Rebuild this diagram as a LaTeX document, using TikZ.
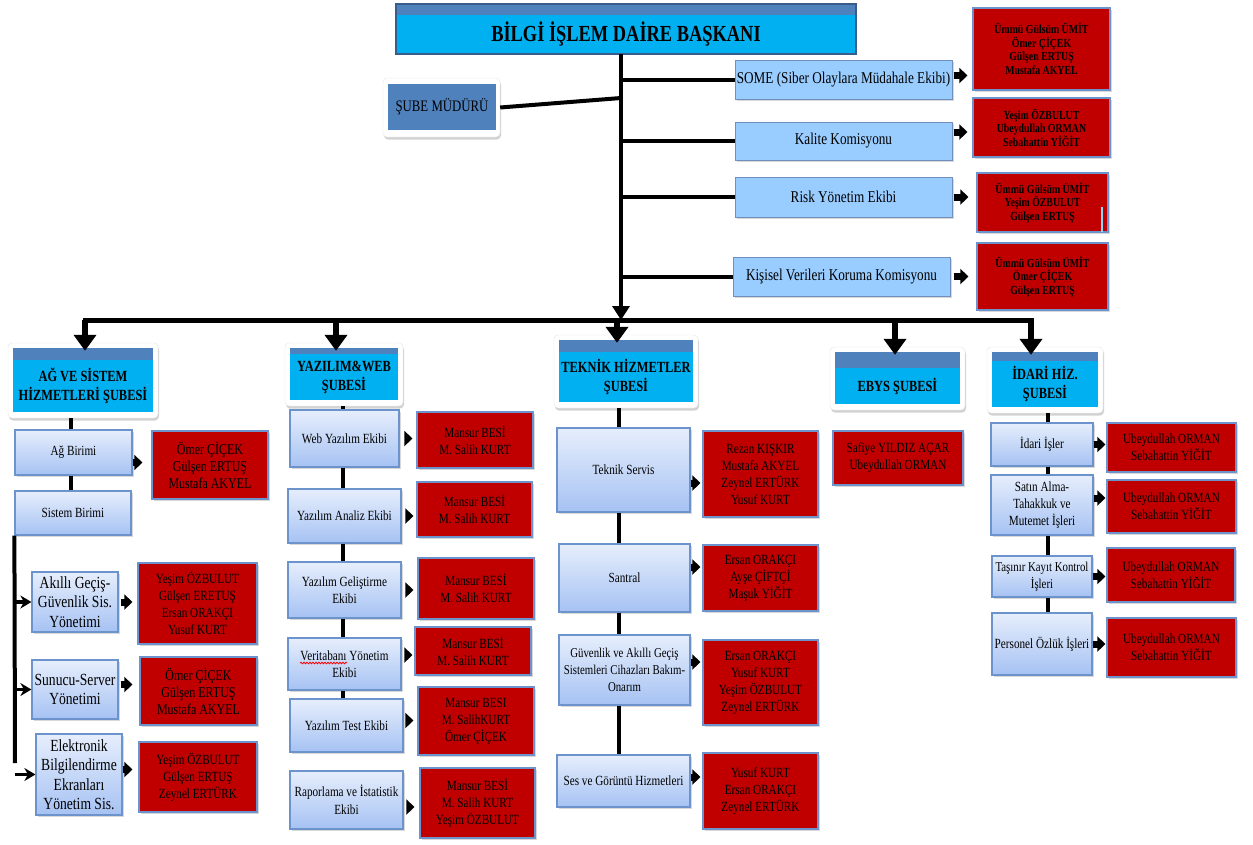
\documentclass[tikz,border=0pt]{standalone}
\usepackage{fontspec}
\setmainfont{Liberation Serif}[FakeStretch=0.8]
\usetikzlibrary{arrows.meta,shadows,decorations.pathmorphing}
\definecolor{cyanb}{HTML}{00B0F0}
\definecolor{steel}{HTML}{4F81BD}
\definecolor{redb}{HTML}{C00000}
\definecolor{ltb}{HTML}{99CCFF}
\definecolor{gtop}{HTML}{E6EEFC}
\definecolor{gbot}{HTML}{A6C2F3}
\definecolor{bord}{HTML}{6D93CC}
\definecolor{navyb}{HTML}{385D8A}
\newcommand\bx[7]{%
 \pgfmathsetmacro\mybw{#5-#3}\pgfmathsetmacro\mybh{#6-#4}%
 \node[#2, minimum width=\mybw pt, minimum height=\mybh pt] (#1) at ({(#3+#5)/2},{(#4+#6)/2}) {#7};}
\newcommand\hdr[7]{%
 \pgfmathsetmacro\gxa{#2-5}\pgfmathsetmacro\gya{#3-5}\pgfmathsetmacro\gxb{#4+5}\pgfmathsetmacro\gyb{#6+6}%
 \bx{#1-g}{glow}{\gxa}{\gya}{\gxb}{\gyb}{}%
 \bx{#1-b}{band}{#2}{#3}{#4}{#5}{}%
 \bx{#1}{hbody}{#2}{#5}{#4}{#6}{#7}}
\tikzset{
 every node/.style={inner sep=1pt, align=center},
 shd/.style={drop shadow={opacity=0.3, shadow xshift=1.5pt, shadow yshift=-2pt}},
 lbox/.style={draw=bord, line width=1.2pt, top color=gtop, bottom color=gbot, shd, font=\fontsize{14}{17.5}\selectfont},
 lboxb/.style={lbox, font=\fontsize{17}{19.5}\selectfont},
 rbox/.style={draw=bord, line width=1.2pt, fill=redb, shd, text=black, font=\fontsize{14}{17}\selectfont},
 trbox/.style={rbox, font=\bfseries\fontsize{12.3}{13.5}\selectfont},
 tbox/.style={draw=bord!80!gray, line width=1pt, fill=ltb, shd, font=\fontsize{16.5}{20}\selectfont},
 glow/.style={fill=white, draw=gray!20, rounded corners=4pt, drop shadow={opacity=0.35, shadow xshift=1pt, shadow yshift=-2.5pt}},
 band/.style={fill=steel, inner sep=0},
 hbody/.style={fill=cyanb, inner sep=0, font=\bfseries\fontsize{15.5}{19}\selectfont},
 conn/.style={line width=4pt},
 busline/.style={line width=5pt, line cap=rect},
 dnarrow/.style={line width=6pt, -{Triangle[length=16pt,width=22pt]}, shorten >=-3pt},
 arr/.style={line width=7pt, -{Triangle[length=8pt,width=15pt]}},
 barb/.style={line width=3.5pt, -{Stealth[length=11pt,width=13pt]}},
}
\begin{document}
\begin{tikzpicture}[x=1pt,y=-1pt]
\fill[white] (0,0) rectangle (1253,844);
\useasboundingbox (0,0) rectangle (1253,844);

% title
\bx{titleb}{band}{396}{4}{856}{15}{}
\bx{title}{fill=cyanb, inner sep=0, font=\bfseries\fontsize{23}{26}\selectfont}{396}{15}{856}{54}{BİLGİ İŞLEM DAİRE BAŞKANI}
\draw[draw=navyb, line width=2.5pt] (titleb.north west) rectangle (title.south east);

% sube muduru
\bx{smo}{glow}{383}{78}{500}{137}{}
\bx{sm}{fill=steel, inner sep=0, font=\fontsize{16}{19}\selectfont}{388}{84}{496}{130}{ŞUBE MÜDÜRÜ}

% top right
\bx{some}{tbox}{735}{60}{952}{99}{SOME (Siber Olaylara Müdahale Ekibi)}
\bx{kal}{tbox}{735}{122}{952}{160}{Kalite Komisyonu}
\bx{risk}{tbox}{735}{177}{952}{217}{Risk Yönetim Ekibi}
\bx{kvk}{tbox}{733}{257}{950}{296}{Kişisel Verileri Koruma Komisyonu}
\bx{r1}{trbox}{973}{8}{1110}{90}{Ümmü Gülsüm ÜMİT\\Ömer ÇİÇEK\\Gülşen ERTUŞ\\Mustafa AKYEL}
\bx{r2}{trbox}{973}{98}{1110}{157}{Yeşim ÖZBULUT\\Ubeydullah ORMAN\\Sebahattin YİĞİT}
\bx{r3}{trbox}{977}{173}{1108}{232}{Ümmü Gülsüm ÜMİT\\Yeşim ÖZBULUT\\Gülşen ERTUŞ}
\bx{r4}{trbox}{977}{243}{1108}{310}{Ümmü Gülsüm ÜMİT\\Ömer ÇİÇEK\\Gülşen ERTUŞ}
\draw[line width=1.5pt, cyan!45] (1102,207) -- (1102,232);

% headers
\hdr{hA}{13}{348}{153}{360}{412}{AĞ VE SİSTEM\\HİZMETLERİ ŞUBESİ}
\hdr{hB}{290}{348}{398}{354}{400}{YAZILIM\&WEB\\ŞUBESİ}
\hdr{hC}{559}{340}{693}{352}{402}{TEKNİK HİZMETLER\\ŞUBESİ}
\hdr{hD}{835}{352}{960}{368}{404}{EBYS ŞUBESİ}
\hdr{hE}{992}{352}{1098}{361}{407}{İDARİ HİZ.\\ŞUBESİ}

% column 1
\bx{ab}{lbox}{15}{430}{132}{475}{Ağ Birimi}
\bx{abr}{rbox, font=\fontsize{15}{17}\selectfont}{152}{431}{268}{499}{Ömer ÇİÇEK\\Gülşen ERTUŞ\\Mustafa AKYEL}
\bx{sb}{lbox}{15}{491}{131}{535}{Sistem Birimi}
\bx{ak}{lboxb}{32}{572}{118}{632}{Akıllı Geçiş-\\Güvenlik Sis.\\Yönetimi}
\bx{akr}{rbox}{138}{563}{257}{644}{Yeşim ÖZBULUT\\Gülşen ERETUŞ\\Ersan ORAKÇI\\Yusuf KURT}
\bx{su}{lboxb}{32}{660}{118}{719}{Sunucu-Server\\Yönetimi}
\bx{sur}{rbox, font=\fontsize{15}{17}\selectfont}{140}{657}{257}{725}{Ömer ÇİÇEK\\Gülşen ERTUŞ\\Mustafa AKYEL}
\bx{el}{lboxb}{36}{734}{122}{815}{Elektronik\\Bilgilendirme\\Ekranları\\Yönetim Sis.}
\bx{elr}{rbox}{139}{742}{257}{812}{Yeşim ÖZBULUT\\Gülşen ERTUŞ\\Zeynel ERTÜRK}

% column 2
\bx{web}{lbox}{290}{410}{399}{467}{Web Yazılım Ekibi}
\bx{webr}{rbox}{417}{412}{533}{468}{Mansur BESİ\\M. Salih KURT}
\bx{an}{lbox}{288}{489}{401}{543}{Yazılım Analiz Ekibi}
\bx{anr}{rbox}{417}{482}{532}{537}{Mansur BESİ\\M. Salih KURT}
\bx{ge}{lbox}{288}{562}{401}{618}{Yazılım Geliştirme\\Ekibi}
\bx{ger}{rbox}{418}{558}{534}{619}{Mansur BESİ\\M. Salih KURT}
\bx{vt}{lbox}{288}{638}{401}{690}{Veritabanı Yönetim\\Ekibi}
\bx{vtr}{rbox}{415}{627}{531}{675}{Mansur BESİ\\M. Salih KURT}
\bx{te}{lbox}{290}{699}{403}{752}{Yazılım Test Ekibi}
\bx{ter}{rbox}{418}{687}{534}{755}{Mansur BESI\\M. SalihKURT\\Ömer ÇİÇEK}
\bx{rp}{lbox}{290}{771}{403}{829}{Raporlama ve İstatistik\\Ekibi}
\bx{rpr}{rbox}{420}{768}{535}{838}{Mansur BESİ\\M. Salih KURT\\Yeşim ÖZBULUT}
\draw[red, line width=0.8pt, decorate, decoration={snake, amplitude=0.8pt, segment length=3pt}] (300,663) -- (347,663);

% column 3
\bx{ts}{lbox}{557}{428}{690}{512}{Teknik Servis}
\bx{tsr}{rbox}{703}{431}{818}{517}{Rezan KIŞKIR\\Mustafa AKYEL\\Zeynel ERTÜRK\\Yusuf KURT}
\bx{sa}{lbox}{559}{544}{690}{612}{Santral}
\bx{sar}{rbox}{703}{545}{818}{611}{Ersan ORAKÇI\\Ayşe ÇİFTÇİ\\Maşuk YİĞİT}
\bx{gu}{lbox, font=\fontsize{13.5}{17}\selectfont}{559}{635}{690}{705}{Güvenlik ve Akıllı Geçiş\\Sistemleri Cihazları Bakım-\\Onarım}
\bx{gur}{rbox}{703}{640}{818}{725}{Ersan ORAKÇI\\Yusuf KURT\\Yeşim ÖZBULUT\\Zeynel ERTÜRK}
\bx{se}{lbox}{557}{755}{690}{807}{Ses ve Görüntü Hizmetleri}
\bx{ser}{rbox}{703}{753}{818}{829}{Yusuf KURT\\Ersan ORAKÇI\\Zeynel ERTÜRK}

% column 4
\bx{eb}{rbox}{833}{431}{963}{485}{Safiye YILDIZ AÇAR\\Ubeydullah ORMAN}

% column 5
\bx{id}{lbox}{991}{423}{1093}{466}{İdari İşler}
\bx{idr}{rbox}{1107}{423}{1236}{472}{Ubeydullah ORMAN\\Sebahattin YİĞİT}
\bx{sat}{lbox, font=\fontsize{14}{17}\selectfont}{991}{475}{1093}{535}{Satın Alma-\\Tahakkuk ve\\Mutemet İşleri}
\bx{satr}{rbox}{1107}{480}{1236}{533}{Ubeydullah ORMAN\\Sebahattin YİĞİT}
\bx{tas}{lbox, font=\fontsize{13.5}{17}\selectfont}{992}{556}{1092}{597}{Taşınır Kayıt Kontrol\\İşleri}
\bx{tasr}{rbox}{1107}{548}{1235}{602}{Ubeydullah ORMAN\\Sebahattin YİĞİT}
\bx{per}{lbox}{992}{613}{1092}{675}{Personel Özlük İşleri}
\bx{perr}{rbox}{1107}{618}{1236}{677}{Ubeydullah ORMAN\\Sebahattin YİĞİT}

% ---------- connectors ----------
\coordinate (vx) at (621,0);
\coordinate (smj) at (621,98);
\coordinate (bL) at (85,320);
\coordinate (bR) at (1031,320);
\draw[line width=4pt, -{Triangle[length=14pt,width=17pt]}] (title.south -| vx) -- (vx |- bL);
\draw[conn] (smo.east) -- (smj);
\foreach \n in {some,kal,risk,kvk} \draw[conn] (vx |- \n.west) -- (\n.west);
\draw[busline] (bL) -- (bR);
\coordinate (dA) at (85,320);
\coordinate (dB) at (336,320);
\coordinate (dC) at (617,320);
\coordinate (dD) at (895,320);
\coordinate (dE) at (1031,320);
\draw[dnarrow] (dA) -- (dA |- hA-b.north);
\draw[dnarrow] (dB) -- (dB |- hB-b.north);
\draw[dnarrow] (dC) -- (dC |- hC-b.north);
\draw[dnarrow] (dD) -- (dD |- hD-b.north);
\draw[dnarrow] (dE) -- (dE |- hE-b.north);

% column verticals
\coordinate (xA) at (71,0);
\draw[conn] (hA-g.south -| xA) -- (ab.north -| xA);
\draw[conn] (ab.south -| xA) -- (sb.north -| xA);
\coordinate (c1) at (15,763);
\draw[conn] (sb.south west) -- (c1);
\draw[barb] (c1 |- ak.west) -- (ak.west);
\draw[barb] (c1 |- su.west) -- (su.west);
\draw[barb] (c1 |- el.west) -- (el.west);

\coordinate (xB) at (343,0);
\draw[conn] (hB-g.south -| xB) -- (web.north -| xB);
\draw[conn] (web.south -| xB) -- (an.north -| xB);
\draw[conn] (an.south -| xB) -- (ge.north -| xB);
\draw[conn] (ge.south -| xB) -- (vt.north -| xB);
\draw[conn] (vt.south -| xB) -- (te.north -| xB);

\coordinate (xC) at (619,0);
\draw[conn] (hC-g.south -| xC) -- (ts.north -| xC);
\draw[conn] (ts.south -| xC) -- (sa.north -| xC);
\draw[conn] (sa.south -| xC) -- (gu.north -| xC);
\draw[conn] (gu.south -| xC) -- (se.north -| xC);

\coordinate (xE) at (1048,0);
\draw[conn] (hE-g.south -| xE) -- (id.north -| xE);
\draw[conn] (id.south -| xE) -- (sat.north -| xE);
\draw[conn] (sat.south -| xE) -- (tas.north -| xE);
\draw[conn] (tas.south -| xE) -- (per.north -| xE);

% small arrows
\draw[arr, shorten <=1pt, shorten >=5pt] ([yshift=4pt]some.east) -- ([yshift=4pt]some.east -| r1.west);
\draw[arr, shorten <=1pt, shorten >=5pt] ([yshift=9pt]kal.east) -- ([yshift=9pt]kal.east -| r2.west);
\draw[arr, shorten <=1pt, shorten >=8pt] (risk.east) -- (risk.east -| r3.west);
\draw[arr, shorten <=3pt, shorten >=8pt] (kvk.east) -- (kvk.east -| r4.west);

\draw[arr, shorten >=9pt] ([yshift=-10pt]ab.east) -- ([yshift=-10pt]ab.east -| abr.west);
\draw[arr, shorten <=2pt, shorten >=5pt] (ak.east) -- (ak.east -| akr.west);
\draw[arr, shorten <=2pt, shorten >=7pt] ([yshift=5pt]su.east) -- ([yshift=5pt]su.east -| sur.west);
\draw[arr, shorten <=0pt, shorten >=6pt] ([yshift=5pt]el.east) -- ([yshift=5pt]el.east -| elr.west);

\draw[arr, shorten <=6pt, shorten >=4pt] (web.east) -- (web.east -| webr.west);
\draw[arr, shorten <=4pt, shorten >=3pt] (an.east) -- (an.east -| anr.west);
\draw[arr, shorten <=4pt, shorten >=4pt] (ge.east) -- (ge.east -| ger.west);
\draw[arr, shorten <=4pt, shorten >=2pt] ([yshift=9pt]vt.east) -- ([yshift=9pt]vt.east -| vtr.west);
\draw[arr, shorten <=3pt, shorten >=4pt] ([yshift=5pt]te.east) -- ([yshift=5pt]te.east -| ter.west);
\draw[arr, shorten <=3pt, shorten >=5pt] ([yshift=-7pt]rp.east) -- ([yshift=-7pt]rp.east -| rpr.west);

\draw[arr, shorten >=2pt] ([yshift=-13pt]ts.east) -- ([yshift=-13pt]ts.east -| tsr.west);
\draw[arr, shorten >=2pt] ([yshift=11pt]sa.east) -- ([yshift=11pt]sa.east -| sar.west);
\draw[arr, shorten >=2pt] ([yshift=8pt]gu.east) -- ([yshift=8pt]gu.east -| gur.west);
\draw[arr, shorten >=2pt] ([yshift=4pt]se.east) -- ([yshift=4pt]se.east -| ser.west);

\draw[arr, shorten >=1pt] (id.east) -- (id.east -| idr.west);
\draw[arr, shorten >=1pt] ([yshift=7pt]sat.east) -- ([yshift=7pt]sat.east -| satr.west);
\draw[arr, shorten >=1pt] (tas.east) -- (tas.east -| tasr.west);
\draw[arr, shorten >=1pt] (per.east) -- (per.east -| perr.west);
\end{tikzpicture}
\end{document}
